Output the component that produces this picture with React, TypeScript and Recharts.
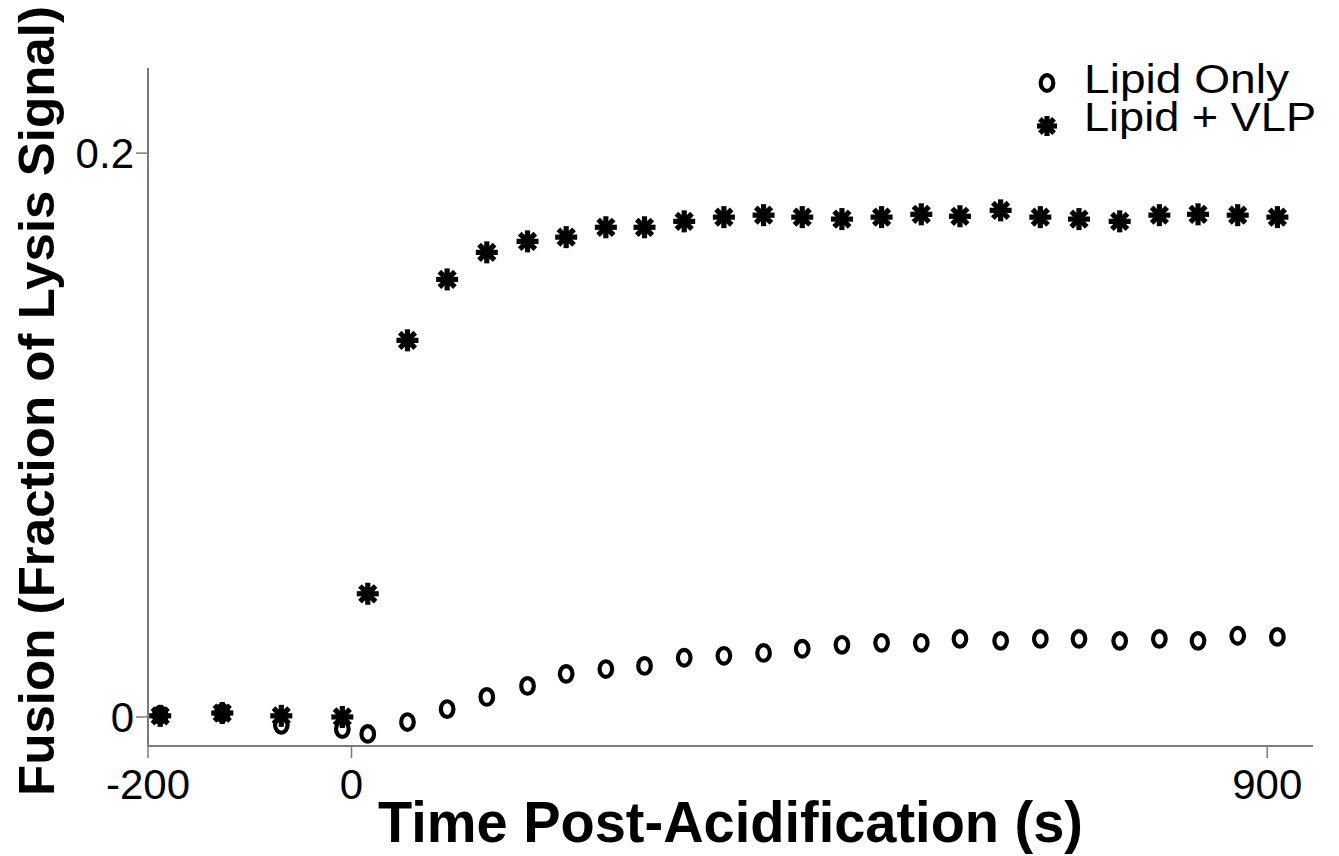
import React from 'react'
import { ScatterChart, Scatter, XAxis, YAxis, Label } from 'recharts'

const FONT = '"Liberation Sans", Arial, Helvetica, sans-serif'
const AXIS_GREY = '#7a7a7a'

// time after acidification (s)
const times = [-188, -127, -69, -9, 16, 55, 94, 133, 173, 211, 250, 288, 327, 366, 405, 443, 482, 521, 560, 598, 638, 677, 715, 755, 794, 832, 871, 910]

const lipidOnly = [0.0007, 0.0014, -0.0028, -0.0043, -0.006, -0.0018, 0.0028, 0.0071, 0.011, 0.0153, 0.017, 0.0181, 0.021, 0.0217, 0.0227, 0.0242, 0.0256, 0.0263, 0.0263, 0.0277, 0.027, 0.0277, 0.0277, 0.027, 0.0277, 0.027, 0.0288, 0.0284]

const lipidVlp = [0.0004, 0.0014, 0.0004, 0.0, 0.0437, 0.1336, 0.1552, 0.1648, 0.1687, 0.1702, 0.1737, 0.1737, 0.1758, 0.1773, 0.178, 0.1773, 0.1766, 0.1773, 0.1783, 0.1776, 0.1797, 0.1773, 0.1766, 0.1758, 0.178, 0.1783, 0.178, 0.1773]

const xTicks = [-200, 0, 900]
const yTicks = [0, 0.2]
const seriesNames = ['Lipid Only', 'Lipid + VLP']

const onlyData = times.map((t, i) => ({ t, v: lipidOnly[i] }))
const vlpData = times.map((t, i) => ({ t, v: lipidVlp[i] }))

const Ring = ({ cx, cy }: any) => (
	<ellipse cx={cx} cy={cy} rx={6.3} ry={7.8} fill="none" stroke="#000" strokeWidth={4.2} />
)

const Star = ({ cx, cy, r = 11 }: any) => {
	const d = r * Math.SQRT1_2
	return (
		<g stroke="#000" strokeWidth={5.2}>
			<line x1={cx - r} y1={cy} x2={cx + r} y2={cy} />
			<line x1={cx} y1={cy - r} x2={cx} y2={cy + r} />
			<line x1={cx - d} y1={cy - d} x2={cx + d} y2={cy + d} />
			<line x1={cx - d} y1={cy + d} x2={cx + d} y2={cy - d} />
			<circle cx={cx} cy={cy} r={6} fill="#000" stroke="none" />
		</g>
	)
}

const XTick = ({ x, y, payload }: any) => (
	<text x={x} y={y} dy={39} textAnchor="middle" fontSize={42} fontFamily={FONT} fill="#000">
		{payload.value}
	</text>
)

const YTick = ({ x, y, payload }: any) => (
	<text x={x} y={y} dy={15} textAnchor="end" fontSize={42} fontFamily={FONT} fill="#000">
		{payload.value}
	</text>
)

const XTitle = ({ viewBox }: any) => {
	const { x, y, width } = viewBox
	return (
		<text
			x={x + width / 2}
			y={y + 96}
			textAnchor="middle"
			fontSize={57}
			fontWeight="bold"
			fontFamily={FONT}
			textLength={705}
			lengthAdjust="spacingAndGlyphs"
			fill="#000"
		>
			Time Post-Acidification (s)
		</text>
	)
}

const YTitle = ({ viewBox }: any) => {
	const { y, height } = viewBox
	const cx = 54
	const cy = y + height / 2 - 6
	return (
		<text
			x={cx}
			y={cy}
			transform={`rotate(-90 ${cx} ${cy})`}
			textAnchor="middle"
			fontSize={50}
			fontWeight="bold"
			fontFamily={FONT}
			textLength={790}
			lengthAdjust="spacingAndGlyphs"
			fill="#000"
		>
			Fusion (Fraction of Lysis Signal)
		</text>
	)
}

const LegendBox = () => (
	<svg
		width={320}
		height={100}
		style={{ position: 'absolute', left: 1019, top: 50 }}
	>
		<Ring cx={28} cy={33} />
		<text x={65} y={43} fontSize={40} fontFamily={FONT} fill="#000" textLength={205} lengthAdjust="spacingAndGlyphs">
			{seriesNames[0]}
		</text>
		<Star cx={28} cy={76} r={10} />
		<text x={65} y={81} fontSize={40} fontFamily={FONT} fill="#000" textLength={232} lengthAdjust="spacingAndGlyphs">
			{seriesNames[1]}
		</text>
	</svg>
)

export default function App() {
	return (
		<div style={{ position: 'absolute', left: 0, top: 0, width: 1339, height: 856, background: '#fff' }}>
			<ScatterChart width={1339} height={856} margin={{ top: 68, right: 26, bottom: 0, left: 0 }}>
				<XAxis
					type="number"
					dataKey="t"
					domain={[-200, 945]}
					ticks={xTicks}
					allowDataOverflow
					height={110}
					tickSize={12}
					axisLine={{ stroke: AXIS_GREY, strokeWidth: 2 }}
					tickLine={{ stroke: AXIS_GREY, strokeWidth: 1.5 }}
					tick={<XTick />}
				>
					<Label content={<XTitle />} />
				</XAxis>
				<YAxis
					type="number"
					dataKey="v"
					domain={[-0.0103, 0.2302]}
					ticks={yTicks}
					allowDataOverflow
					width={148}
					tickSize={12}
					axisLine={{ stroke: AXIS_GREY, strokeWidth: 2 }}
					tickLine={{ stroke: AXIS_GREY, strokeWidth: 1.5 }}
					tick={<YTick />}
				>
					<Label content={<YTitle />} />
				</YAxis>
				<Scatter name={seriesNames[0]} data={onlyData} shape={<Ring />} isAnimationActive={false} />
				<Scatter name={seriesNames[1]} data={vlpData} shape={<Star />} isAnimationActive={false} />
			</ScatterChart>
			<LegendBox />
		</div>
	)
}
